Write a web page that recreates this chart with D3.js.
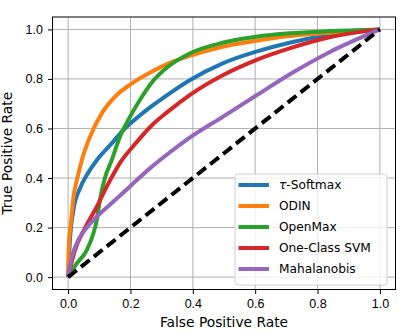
<!DOCTYPE html>
<html>
<head>
<meta charset="utf-8">
<script src="https://cdn.jsdelivr.net/npm/d3@7.9.0/dist/d3.min.js"></script>
<style>
  body { margin: 0; background: #fff; }
  svg { display: block; font-family: "DejaVu Sans", sans-serif; }
  .tick text { font-size: 12.5px; fill: #000; }
</style>
</head>
<body>
<svg id="chart" width="416" height="331"></svg>
<script>
// ROC curves, [fpr, tpr]
const softmaxRoc = [[0,0],[0.006,0.15],[0.017,0.27],[0.038,0.358],[0.06,0.412],[0.092,0.472],[0.14,0.54],[0.182,0.6],[0.225,0.647],[0.268,0.69],[0.32,0.737],[0.39,0.795],[0.496,0.863],[0.603,0.91],[0.71,0.946],[0.838,0.977],[1,1]];
const odinRoc = [[0,0],[0.002,0.12],[0.01,0.23],[0.017,0.32],[0.028,0.39],[0.044,0.472],[0.07,0.566],[0.108,0.661],[0.156,0.735],[0.2,0.778],[0.268,0.829],[0.31,0.856],[0.39,0.893],[0.496,0.93],[0.603,0.954],[0.71,0.973],[0.838,0.986],[1,1]];
const openMaxRoc = [[0,0],[0.028,0.055],[0.06,0.109],[0.081,0.176],[0.092,0.23],[0.102,0.311],[0.118,0.4],[0.14,0.472],[0.166,0.566],[0.193,0.634],[0.23,0.715],[0.268,0.785],[0.32,0.849],[0.39,0.903],[0.496,0.946],[0.603,0.97],[0.71,0.984],[0.838,0.993],[1,1]];
const svmRoc = [[0,0],[0.022,0.109],[0.055,0.2],[0.092,0.284],[0.124,0.365],[0.166,0.46],[0.22,0.545],[0.268,0.612],[0.32,0.668],[0.39,0.735],[0.496,0.815],[0.603,0.876],[0.71,0.923],[0.838,0.968],[1,1]];
const mahalanobisRoc = [[0,0],[0.012,0.08],[0.033,0.15],[0.06,0.2],[0.097,0.25],[0.15,0.31],[0.2,0.368],[0.265,0.442],[0.331,0.508],[0.39,0.563],[0.496,0.647],[0.603,0.733],[0.71,0.818],[0.838,0.908],[1,1]];
const chanceLine = [[0,0],[1,1]];

const seriesNames = ['τ-Softmax', 'ODIN', 'OpenMax', 'One-Class SVM', 'Mahalanobis'];
const seriesData = [softmaxRoc, odinRoc, openMaxRoc, svmRoc, mahalanobisRoc];
const seriesColors = ['#1f77b4', '#ff7f0e', '#2ca02c', '#d62728', '#9467bd'];
const tickValues = [0, 0.2, 0.4, 0.6, 0.8, 1.0];

const svg = d3.select('#chart');
const plotLeft = 52.5, plotRight = 395.5, plotTop = 17, plotBottom = 289.5;

const x = d3.scaleLinear().domain([-0.05, 1.05]).range([plotLeft, plotRight]);
const y = d3.scaleLinear().domain([-0.05, 1.05]).range([plotBottom, plotTop]);

// grid
const grid = svg.append('g');
tickValues.forEach(t => {
  grid.append('line')
    .attr('x1', x(t)).attr('x2', x(t)).attr('y1', plotTop).attr('y2', plotBottom)
    .attr('stroke', '#b0b0b0').attr('stroke-width', 1);
  grid.append('line')
    .attr('x1', plotLeft).attr('x2', plotRight).attr('y1', y(t)).attr('y2', y(t))
    .attr('stroke', '#b0b0b0').attr('stroke-width', 1);
});

// curves
const line = d3.line()
  .x(d => x(d[0]))
  .y(d => y(d[1]))
  .curve(d3.curveMonotoneX);

svg.append('clipPath').attr('id', 'plotclip')
  .append('rect').attr('x', plotLeft).attr('y', plotTop)
  .attr('width', plotRight - plotLeft).attr('height', plotBottom - plotTop);

const plot = svg.append('g').attr('clip-path', 'url(#plotclip)');
seriesData.forEach((data, i) => {
  plot.append('path')
    .attr('d', line(data))
    .attr('fill', 'none')
    .attr('stroke', seriesColors[i])
    .attr('stroke-width', 4)
    .attr('stroke-linejoin', 'round')
    .attr('stroke-linecap', 'butt');
});
plot.append('path')
  .attr('d', line(chanceLine))
  .attr('fill', 'none')
  .attr('stroke', '#000')
  .attr('stroke-width', 4)
  .attr('stroke-dasharray', '11,5.5');

// frame
svg.append('rect')
  .attr('x', plotLeft).attr('y', plotTop)
  .attr('width', plotRight - plotLeft).attr('height', plotBottom - plotTop)
  .attr('fill', 'none').attr('stroke', '#000').attr('stroke-width', 1);

// axes
const fmt = d3.format('.1f');
const xAxis = svg.append('g')
  .attr('transform', `translate(0,${plotBottom})`)
  .call(d3.axisBottom(x).tickValues(tickValues).tickFormat(fmt).tickSize(4.5).tickPadding(5));
const yAxis = svg.append('g')
  .attr('transform', `translate(${plotLeft},0)`)
  .call(d3.axisLeft(y).tickValues(tickValues).tickFormat(fmt).tickSize(4.5).tickPadding(5));
[xAxis, yAxis].forEach(a => {
  a.select('.domain').remove();
  a.selectAll('.tick line').attr('stroke', '#000').attr('stroke-width', 1);
});

svg.append('text')
  .attr('x', (plotLeft + plotRight) / 2).attr('y', 327)
  .attr('text-anchor', 'middle')
  .attr('font-size', 13.8)
  .text('False Positive Rate');

svg.append('text')
  .attr('transform', `translate(12,${(plotTop + plotBottom) / 2}) rotate(-90)`)
  .attr('text-anchor', 'middle')
  .attr('font-size', 13.8)
  .text('True Positive Rate');

// legend
const legend = svg.append('g');
legend.append('rect')
  .attr('x', 235).attr('y', 174)
  .attr('width', 152).attr('height', 111)
  .attr('rx', 3)
  .attr('fill', 'rgba(255,255,255,0.8)')
  .attr('stroke', '#d0d0d0').attr('stroke-width', 1);

seriesNames.forEach((name, i) => {
  const ly = 185 + i * 21;
  legend.append('line')
    .attr('x1', 238.5).attr('x2', 269)
    .attr('y1', ly).attr('y2', ly)
    .attr('stroke', seriesColors[i]).attr('stroke-width', 4);
  const label = legend.append('text')
    .attr('x', 279).attr('y', ly)
    .attr('dy', '0.36em')
    .attr('font-size', 12.2);
  // the tau is set in math italic, as in the original
  if (name.startsWith('τ')) {
    label.append('tspan').attr('font-style', 'italic').text('τ');
    label.append('tspan').text(name.slice(1));
  } else {
    label.text(name);
  }
});
</script>
</body>
</html>
